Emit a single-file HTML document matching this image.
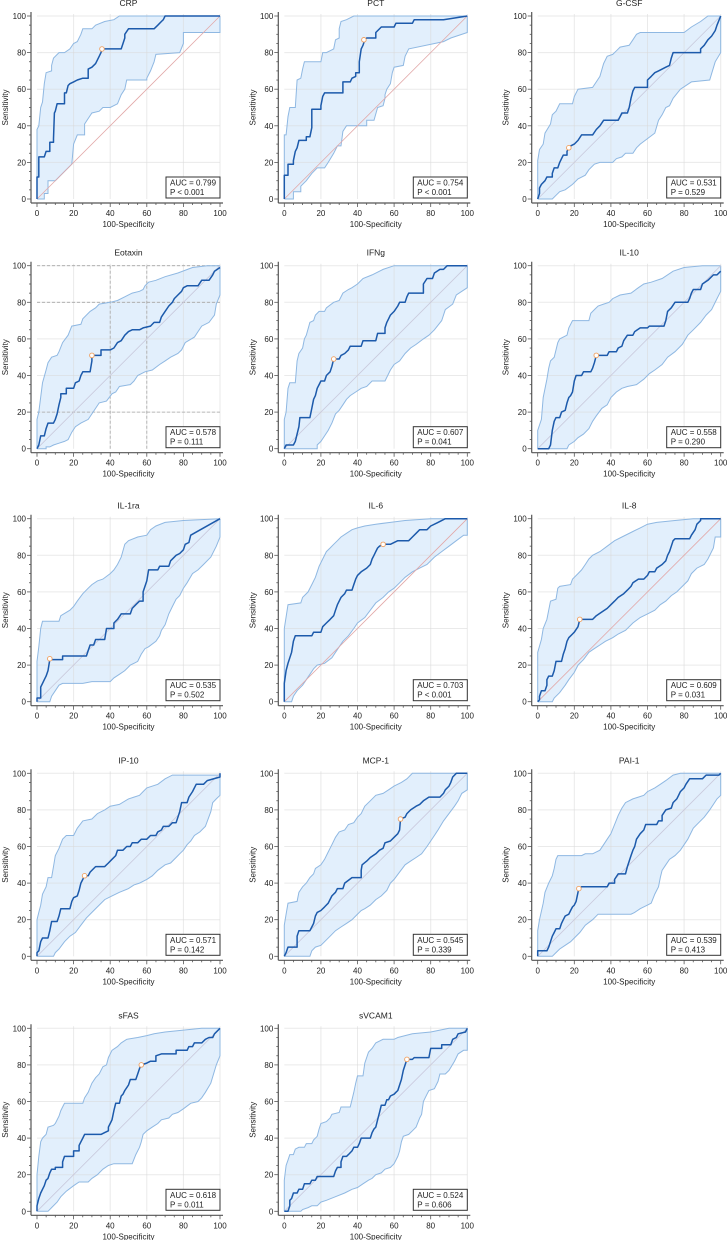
<!DOCTYPE html>
<html><head><meta charset="utf-8"><style>
html,body{margin:0;padding:0;background:#fff;}
svg{display:block;font-family:"Liberation Sans",sans-serif;}
</style></head><body>
<svg id="chart" width="728" height="1240" viewBox="0 0 728 1240" xmlns="http://www.w3.org/2000/svg"></svg>
<script>
// ---- data ----
const panelNames = ["CRP","PCT","G-CSF","Eotaxin","IFNg","IL-10","IL-1ra","IL-6","IL-8","IP-10","MCP-1","PAI-1","sFAS","sVCAM1"];
const aucValues = ["0.799","0.754","0.531","0.578","0.607","0.558","0.535","0.703","0.609","0.571","0.545","0.539","0.618","0.524"];
const pValues = ["P < 0.001","P < 0.001","P = 0.529","P = 0.111","P = 0.041","P = 0.290","P = 0.502","P < 0.001","P = 0.031","P = 0.142","P = 0.339","P = 0.413","P = 0.011","P = 0.606"];
const cutoffs = [[35.5,82],[43.5,87],[17,28],[30,51],[27,49],[32,51],[7,23.5],[54,86],[23,45],[26,44],[63.5,75],[22.5,37],[57,80],[67,83]];
const tickValues = [0,20,40,60,80,100];
const rocMain = [
[[0,0],[0,12],[1,12],[1,23],[4,23],[5,26],[7,26],[7,31],[9,31],[9,33],[9.5,47],[10,48],[11,52],[15,52],[15,58],[16,58],[17,62],[18,63],[20,64],[22,65],[25,66],[28,66],[28,71],[30,72],[32,74],[33,76],[34,78],[35,80],[35.5,82],[46,82],[47,85],[48,88],[48,90],[50,93],[64,93],[66,95],[68,97],[69,98],[70,100],[100,100]],
[[0,0],[0,13],[2,13],[2,19],[5,19],[5,21],[6,26],[7,28],[8,32],[12,32],[12,34],[14,34],[15,39],[15,49],[20,49],[20,51],[21,56],[22,58],[32,58],[32,64],[36,64],[37,66],[39,67],[39,69],[41,69],[41,75],[42,82],[43,84],[44,87],[45,88],[50,88],[50,91],[53,94],[60,94],[61,96],[70,96],[71,98],[87,98],[100,100]],
[[0,0],[1,3],[1,6],[2,8],[4,10],[5,12],[8,12],[8,14],[9,17],[11,17],[12,20],[13,22],[14,24],[16,24],[16,26],[17,28],[18,29],[20,30],[22,32],[24,35],[30,35],[32,38],[34,40],[36,43],[44,43],[45,45],[46,47],[49,47],[50,50],[51,55],[52,59],[53,61],[60,61],[60,65],[62,67],[64,69],[66,70],[70,72],[72,73],[73,77],[74,80],[89,80],[89,82],[91,84],[93,87],[95,89],[97,92],[98,95],[100,100]],
[[0,0],[1,2],[2,7],[4,7],[5,11],[6,14],[9,14],[10,16],[11,19],[12,24],[13,28],[13,30],[16,30],[16,33],[20,33],[21,36],[23,37],[24,40],[25,42],[29,42],[30,48],[30,51],[35,51],[35,54],[40,54],[42,55],[44,58],[46,59],[48,62],[50,64],[52,65],[56,65],[58,66],[62,67],[64,69],[67,69],[68,72],[70,75],[72,78],[74,80],[75,82],[77,84],[79,86],[80,88],[82,89],[88,89],[90,92],[94,92],[96,95],[97,97],[100,99]],
[[0,0],[1,2],[5,2],[6,4],[7,8],[8,12],[8.5,17],[14,17],[15,22],[16,27],[17,29],[18,33],[19,35],[20,37],[22,37],[23,40],[25,42],[26,45],[27,49],[30,49],[31,51],[33,52],[35,54],[36,56],[42,56],[43,59],[50,59],[51,63],[55,63],[55,66],[56,69],[57,71],[58,73],[60,75],[62,78],[63,80],[66,80],[67,83],[68,85],[76,85],[76,90],[78,93],[81,93],[82,96],[85,98],[87,98],[89,100],[100,100]],
[[0,0],[6,0],[7,2],[8,10],[9,15],[10,17],[12,17],[13,20],[15,21],[16,25],[17,28],[18,29],[19,31],[20,37],[21,40],[24,40],[25,42],[29,42],[30,44],[31,47],[32,51],[38,51],[39,53],[43,53],[44,55],[46,56],[47,59],[49,62],[52,62],[53,64],[56,66],[60,66],[61,67],[69,67],[70,70],[71,75],[73,77],[75,80],[82,80],[83,82],[84,85],[85,87],[89,87],[90,90],[93,92],[96,95],[98,95],[100,97]],
[[0,0],[0,2],[2,2],[2,8],[3,10],[4,12],[5,14],[6,17],[6.5,20],[7,23],[14,23],[14,25],[27,25],[28,28],[29,31],[31,31],[32,34],[37,34],[38,40],[42,40],[42,43],[44,45],[46,48],[51,48],[52,51],[54,53],[56,55],[58,55],[58,60],[60,66],[61,72],[66,72],[67,74],[72,74],[73,77],[76,80],[78,81],[80,83],[81,86],[83,87],[84,91],[100,100]],
[[0,0],[0,10],[1,17],[2,21],[3,24],[4,27],[5,33],[6,36],[15,36],[16,38],[20,38],[21,41],[23,43],[25,45],[27,47],[28,50],[29,53],[31,57],[33,59],[34,61],[37,61],[38,64],[39,67],[40,69],[42,71],[45,73],[47,75],[48,78],[49,80],[50,82],[51,84],[52,85],[54,86],[58,86],[62,88],[68,88],[70,90],[72,92],[74,94],[78,94],[80,96],[84,98],[88,100],[100,100]],
[[0,0],[1,1],[1,3],[2,6],[4,6],[5,9],[5,12],[6,14],[8,14],[9,17],[10,22],[13,22],[14,26],[15,29],[16,33],[17,35],[19,37],[20,38],[22,41],[23,45],[30,45],[32,47],[35,49],[38,51],[40,53],[42,55],[44,57],[47,59],[49,61],[51,63],[52,65],[55,67],[58,67],[60,69],[61,71],[64,71],[65,73],[68,75],[70,77],[71,80],[72,82],[73,85],[74,88],[75,89],[83,89],[84,91],[86,94],[87,97],[89,99],[89,100],[100,100]],
[[0,0],[0,2],[1,3],[2,8],[3,10],[6,10],[7,14],[8,19],[11,19],[12,22],[13,26],[18,26],[19,30],[20,32],[22,33],[23,36],[24,40],[25,42],[26,44],[28,44],[29,46],[31,48],[32,49],[37,49],[39,51],[41,53],[43,55],[44,58],[47,58],[49,60],[51,60],[52,62],[55,62],[57,64],[60,64],[62,66],[65,66],[66,68],[68,69],[69,71],[72,71],[74,73],[76,73],[77,76],[78,79],[79,84],[82,84],[83,87],[85,90],[87,94],[91,94],[93,96],[100,98],[100,100]],
[[0,0],[1,2],[2,5],[7,5],[7,11],[8,14],[14,14],[15,16],[16,18],[17,22],[18,24],[20,25],[22,27],[24,29],[26,33],[28,35],[29,37],[32,37],[33,40],[37,43],[42,43],[42,47],[42.5,50],[45,52],[47,54],[50,56],[52,58],[54,59],[55,62],[58,63],[60,65],[62,67],[63,69],[63.5,75],[66,76],[67,78],[69,80],[72,82],[74,83],[76,85],[79,87],[85,87],[87,89],[88,91],[90,93],[91,95],[92,98],[94,100],[100,100]],
[[0,0],[0,3],[5,3],[6,5],[7,8],[8,11],[9,13],[10,15],[12,15],[13,18],[14,20],[15,22],[17,23],[18,25],[19,27],[20,28],[21,30],[22,35],[22.5,37],[24,38],[38,38],[39,40],[42,40],[42,42],[44,45],[48,45],[49,49],[50,52],[51,55],[52,58],[53,60],[54,64],[56,67],[58,69],[59,72],[65,72],[66,74],[68,74],[68,77],[70,80],[73,81],[74,84],[76,86],[77,88],[78,90],[80,92],[81,94],[83,97],[90,97],[92,99],[99,99],[100,100]],
[[0,0],[0,3],[1,7],[2,10],[3,12],[4,14],[5,17],[6,18],[7,21],[8,23],[10,23],[10,24],[14,24],[14,27],[15,30],[20,30],[20,33],[23,33],[23,36],[24,38],[25,40],[26,42],[35,42],[37,43],[39,44],[39,46],[40,48],[41,50],[42,55],[43,59],[45,59],[46,63],[47,64],[48,66],[50,69],[51,72],[54,72],[55,75],[56,78],[57,80],[60,81],[62,82],[65,82],[65,85],[68,86],[76,86],[76,88],[82,88],[83,90],[85,90],[86,92],[90,92],[92,94],[94,95],[96,95],[97,97],[100,100]],
[[0,0],[2,0],[3,3],[3,6],[4,7],[5,10],[7,10],[8,12],[10,12],[11,15],[14,15],[15,17],[17,17],[18,19],[27,19],[28,22],[29,24],[31,24],[31,27],[32,30],[34,30],[35,31],[37,33],[38,35],[40,35],[41,37],[42,40],[47,40],[48,43],[49,45],[50,46],[51,50],[52,54],[53,58],[55,58],[56,61],[57,61],[58,63],[60,64],[61,65],[62,66],[63,69],[64,72],[65,77],[66,80],[67,83],[70,83],[71,84],[79,84],[80,89],[86,89],[86,91],[91,91],[92,94],[94,95],[95,97],[99,98],[100,100]]
];
const rocUpper = [
[[0,0],[0,38],[1,40],[2,50],[3,53],[4,63],[5,69],[8,70],[8,73],[9,77],[12,80],[15,80],[18,82],[20,85],[22,86],[24,90],[25,93],[30,93],[32,95],[37,97],[42,98],[45,100],[100,100]],
[[0,0],[0,35],[1,35],[2,45],[3,50],[6,50],[7,65],[9,66],[10,71],[11,75],[20,75],[21,80],[23,80],[27,82],[28,87],[30,88],[30,93],[31,97],[34,98],[38,100],[100,100]],
[[0,0],[0,21],[1,27],[3,30],[4,36],[7,41],[8,46],[10,48],[12,52],[19,52],[20,56],[22,60],[30,61],[32,64],[34,67],[36,74],[38,78],[41,79],[43,81],[45,83],[50,84],[52,87],[54,90],[56,91],[80,91],[84,94],[89,97],[93,100],[100,100]],
[[0,0],[0,16],[1,20],[3,36],[5,43],[6,47],[8,50],[11,51],[12,53],[14,58],[17,62],[19,67],[24,68],[25,71],[29,75],[32,77],[34,79],[40,80],[44,81],[48,83],[52,85],[56,86],[58,87],[59,89],[61,91],[65,92],[70,94],[77,96],[85,99],[93,100],[100,100]],
[[0,0],[0,16],[1,20],[2,33],[3,36],[6,36],[7,48],[8,52],[10,55],[11,60],[12,62],[14,69],[16,70],[17,73],[19,75],[22,75],[23,77],[27,80],[30,81],[32,85],[35,87],[37,88],[40,90],[43,93],[48,95],[54,98],[60,100],[100,100]],
[[0,0],[0,10],[2,16],[3,28],[5,38],[6,44],[7,48],[9,50],[11,58],[12,60],[16,62],[17,66],[19,70],[28,70],[29,74],[31,76],[33,78],[36,79],[39,80],[41,82],[45,84],[51,85],[55,88],[58,90],[62,91],[68,93],[74,97],[80,99],[90,100],[100,100]],
[[0,0],[0,22],[1,30],[2,40],[3,44],[12,44],[13,47],[18,50],[20,52],[22,55],[25,59],[28,62],[30,64],[33,66],[36,67],[40,70],[42,72],[44,75],[46,79],[48,86],[50,88],[55,90],[60,91],[62,94],[65,96],[70,98],[80,99],[100,100]],
[[0,0],[0,40],[2,53],[9,54],[10,57],[13,60],[15,64],[17,68],[19,74],[21,78],[23,82],[25,84],[27,86],[29,88],[31,90],[34,92],[37,94],[40,95],[44,96],[50,97],[58,98],[66,99],[80,100],[100,100]],
[[0,0],[0,27],[2,34],[3,40],[5,45],[6,50],[7,55],[10,56],[11,62],[12,63],[18,64],[19,67],[22,70],[24,72],[26,75],[28,78],[30,80],[34,82],[38,85],[42,88],[46,90],[52,93],[56,95],[60,97],[65,98],[75,99],[85,100],[100,100]],
[[0,0],[0,20],[1,24],[2,28],[3,34],[5,38],[6,43],[8,43],[9,49],[10,55],[12,59],[14,64],[16,66],[20,66],[22,70],[25,74],[30,75],[33,78],[37,80],[40,82],[45,83],[50,86],[53,87],[56,88],[58,90],[60,92],[66,94],[70,97],[74,99],[100,99],[100,100]],
[[0,0],[0,17],[1,23],[2,29],[7,30],[8,35],[10,38],[12,40],[14,43],[16,45],[17,48],[20,50],[22,53],[24,57],[26,61],[28,65],[30,68],[33,69],[35,72],[38,73],[40,76],[42,78],[44,82],[47,85],[50,88],[54,89],[57,91],[60,93],[64,95],[67,97],[70,100],[100,100]],
[[0,0],[0,14],[1,20],[3,29],[4,35],[6,40],[8,44],[9,48],[10,53],[11,55],[24,55],[26,56],[30,56],[34,58],[36,61],[38,64],[40,67],[42,72],[44,77],[46,81],[48,84],[52,86],[55,87],[58,88],[60,90],[64,92],[67,94],[70,96],[74,99],[78,100],[100,100]],
[[0,0],[0,20],[1,30],[2,38],[3,40],[5,42],[6,46],[9,47],[10,48],[12,52],[13,55],[14,57],[15,59],[25,59],[26,62],[28,65],[30,70],[32,73],[34,75],[35,77],[36,79],[38,80],[39,84],[41,88],[44,90],[46,92],[49,94],[55,95],[60,96],[64,97],[70,98],[80,99],[90,100],[100,100]],
[[0,0],[0,17],[1,25],[2,28],[3,31],[5,31],[6,34],[8,35],[11,35],[12,37],[15,37],[16,39],[18,41],[19,45],[20,48],[23,49],[25,51],[26,53],[30,54],[31,57],[36,57],[37,61],[38,65],[39,70],[40,74],[43,74],[44,81],[46,87],[48,89],[50,92],[54,94],[60,94],[62,95],[70,97],[80,98],[85,99],[90,100],[100,100]]
];
const rocLower = [
[[0,0],[4,0],[4,3],[6,3],[6,10],[10,10],[12,12],[14,14],[17,17],[19,19],[20,30],[22,35],[26,35],[26,41],[28,44],[30,47],[34,48],[36,50],[40,50],[44,52],[46,57],[48,60],[49,65],[60,65],[60,66],[62,70],[64,75],[65,79],[78,80],[80,85],[80,91],[100,91],[100,100]],
[[0,0],[5,0],[5,4],[9,4],[9,7],[12,10],[15,14],[18,17],[22,17],[24,20],[27,25],[29,29],[31,29],[32,37],[34,40],[45,40],[45,43],[49,43],[51,50],[54,51],[55,55],[55,57],[56,60],[58,63],[59,69],[60,72],[65,73],[66,78],[68,82],[87,86],[91,88],[100,91],[100,100]],
[[0,0],[8,0],[10,2],[12,4],[15,5],[19,8],[22,11],[26,13],[28,16],[31,19],[34,20],[41,20],[43,22],[46,23],[48,25],[52,25],[54,28],[56,30],[60,33],[64,36],[66,43],[68,46],[70,50],[72,51],[74,55],[78,60],[84,64],[94,65],[97,75],[100,80],[100,100]],
[[0,0],[5,0],[5,1],[7,1],[9,2],[12,3],[15,4],[17,5],[19,9],[21,12],[24,14],[28,16],[30,19],[34,25],[38,26],[41,30],[43,31],[45,34],[51,35],[53,37],[55,40],[59,42],[63,43],[67,46],[70,48],[73,50],[77,52],[79,54],[81,58],[86,61],[88,64],[90,67],[94,69],[97,73],[98,79],[100,84],[100,100]],
[[0,0],[18,0],[18,2],[20,4],[22,7],[24,10],[26,14],[28,19],[30,21],[32,24],[34,27],[36,29],[39,31],[42,33],[45,34],[48,37],[55,37],[58,43],[60,46],[63,48],[66,52],[69,55],[72,57],[76,60],[79,62],[82,65],[86,70],[88,76],[92,79],[94,84],[100,88],[100,100]],
[[0,0],[16,0],[17,2],[20,4],[22,6],[25,8],[28,11],[30,15],[32,18],[35,22],[38,24],[40,28],[43,31],[46,33],[49,34],[54,35],[58,38],[61,41],[64,43],[68,46],[71,50],[75,53],[79,57],[82,62],[85,65],[89,69],[92,73],[95,76],[98,82],[100,86],[100,100]],
[[0,0],[7,0],[8,3],[10,6],[12,9],[14,10],[25,10],[30,11],[40,11],[42,13],[45,15],[48,17],[51,20],[53,21],[55,22],[57,26],[59,29],[61,30],[65,33],[67,36],[68,39],[70,42],[72,48],[74,52],[76,56],[78,58],[80,62],[82,65],[85,70],[88,72],[91,75],[95,79],[98,85],[100,90],[100,100]],
[[0,0],[4,0],[5,3],[7,6],[10,9],[12,12],[14,15],[16,18],[18,20],[22,21],[26,24],[28,27],[30,30],[32,33],[35,36],[38,40],[40,43],[44,46],[47,50],[50,54],[54,57],[57,60],[60,62],[63,65],[66,68],[70,71],[74,73],[78,75],[82,79],[86,82],[90,85],[94,88],[98,91],[100,91],[100,100]],
[[0,0],[8,0],[9,2],[12,5],[15,9],[17,12],[20,16],[22,20],[25,23],[28,27],[31,29],[34,31],[37,33],[41,35],[44,37],[48,39],[52,43],[56,46],[60,48],[64,50],[67,53],[70,55],[73,58],[76,60],[79,63],[82,66],[84,70],[87,73],[91,75],[93,78],[96,84],[97,90],[100,90],[100,100]],
[[0,0],[9,0],[10,2],[12,4],[15,8],[18,11],[21,13],[24,17],[27,21],[30,24],[33,27],[37,31],[41,33],[45,35],[50,37],[53,39],[56,40],[60,42],[63,44],[66,47],[70,50],[73,51],[76,54],[78,56],[80,58],[82,61],[84,63],[86,66],[89,68],[92,71],[95,79],[96,84],[98,86],[100,88],[100,100]],
[[0,0],[14,0],[15,3],[17,5],[20,6],[22,8],[25,11],[28,14],[31,16],[34,18],[37,20],[39,22],[42,25],[44,26],[47,28],[50,31],[53,33],[56,36],[58,40],[60,42],[63,46],[66,50],[69,52],[72,54],[75,56],[78,60],[80,63],[82,66],[84,69],[87,74],[90,78],[93,82],[95,85],[97,89],[100,91],[100,100]],
[[0,0],[8,0],[10,2],[12,4],[15,6],[18,8],[20,10],[23,13],[26,17],[30,20],[33,23],[51,23],[53,24],[56,26],[60,28],[62,29],[64,34],[66,38],[67,43],[68,47],[70,50],[72,53],[75,55],[78,58],[80,61],[82,64],[85,70],[88,73],[91,76],[94,80],[96,83],[98,86],[100,88],[100,100]],
[[0,0],[6,0],[8,2],[11,5],[13,8],[16,11],[20,14],[23,16],[28,16],[30,18],[33,20],[36,23],[39,25],[42,26],[52,26],[54,31],[56,35],[57,38],[58,42],[60,44],[63,46],[66,48],[68,50],[72,51],[74,53],[77,54],[80,56],[84,59],[88,60],[90,62],[92,65],[95,70],[98,80],[100,85],[100,100]],
[[0,0],[9,0],[10,1],[13,2],[15,3],[18,3],[20,5],[23,6],[28,8],[33,10],[37,12],[40,13],[43,15],[46,17],[48,18],[50,20],[53,21],[55,23],[58,24],[60,26],[62,30],[63,33],[64,38],[65,41],[68,42],[70,44],[72,46],[74,51],[75,53],[76,60],[77,62],[78,64],[79,66],[82,67],[84,71],[85,75],[88,75],[90,77],[93,82],[95,86],[98,88],[100,88],[100,100]]
];
// ---- layout ----
const colX0 = [37, 284.3, 537.7];
const rowY100 = [16, 265.7, 518.7, 773.3, 1028.3];
const PW = 183, PH = 183;
const redDiag = [0,1,7,8];
const NS = "http://www.w3.org/2000/svg";
const svg = document.getElementById('chart');
function mk(tag, attrs, parent){ const e=document.createElementNS(NS,tag); for(const k in attrs) e.setAttribute(k,attrs[k]); parent.appendChild(e); return e; }

panelNames.forEach((name, i) => {
  const x0 = colX0[i%3], y100 = rowY100[Math.floor(i/3)], y0 = y100+PH;
  const sx = v => x0 + v/100*PW;
  const sy = v => y0 - v/100*PH;
  const g = mk('g', {}, svg);
  
  
  const up = rocUpper[i], lo = rocLower[i];
  let d = 'M' + up.map(p => sx(p[0]).toFixed(1)+','+sy(p[1]).toFixed(1)).join('L');
  d += 'L' + lo.slice().reverse().map(p => sx(p[0]).toFixed(1)+','+sy(p[1]).toFixed(1)).join('L') + 'Z';
  const band = mk('path', {d:d, fill:'#e2effc', stroke:'none'}, g);
  
  
  const grid = mk('g', {stroke:'#d8d8d8','stroke-width':'1','stroke-opacity':'0.55'}, g);
  
  
  tickValues.forEach(t => {
    if (t===0) return;
    mk('line', {x1:sx(t),x2:sx(t),y1:y0,y2:y100-2}, grid);
    mk('line', {x1:x0,x2:x0+PW,y1:sy(t),y2:sy(t)}, grid);
  });
  if (name === 'Eotaxin') {
    const dg = mk('g', {stroke:'#a8a8a8','stroke-width':'0.8','stroke-dasharray':'3,2'}, g);
    
    
    [40,60].forEach(t => mk('line', {x1:sx(t),x2:sx(t),y1:y0,y2:y100}, dg));
    [20,80,100].forEach(t => mk('line', {x1:x0,x2:x0+PW,y1:sy(t),y2:sy(t)}, dg));
  }
  [up, lo].forEach((arr, k) => {
    const l = mk('polyline', {points: arr.map(p => sx(p[0]).toFixed(1)+','+sy(p[1]).toFixed(1)).join(' '), fill:'none', stroke:'#8fb8e2','stroke-width':'1'}, g);
    
    
  });
  const diag = mk('line', {x1:sx(0),y1:sy(0),x2:sx(100),y2:sy(100), stroke: redDiag.includes(i) ? '#e2a8a8' : '#c9c9dc', 'stroke-width':'0.8'}, g);
  
  
  const roc = mk('polyline', {points: rocMain[i].map(p => sx(p[0]).toFixed(1)+','+sy(p[1]).toFixed(1)).join(' '), fill:'none', stroke:'#1c5aab','stroke-width':'1.5','stroke-linejoin':'round'}, g);
  
  
  const c = cutoffs[i];
  const cp = mk('circle', {cx:sx(c[0]), cy:sy(c[1]), r:'2.3', fill:'#fff', stroke:'#f0a060','stroke-width':'0.9'}, g);
  
  
  const ax = mk('g', {stroke:'#555','stroke-width':'1.2',fill:'none'}, g);
  
  
  const axL = x0-6, axB = y0+4;
  mk('line', {x1:axL,x2:axL,y1:y100-4,y2:axB}, ax);
  mk('line', {x1:axL,x2:x0+PW+3,y1:axB,y2:axB}, ax);
  for (let v=0; v<=100; v+=5) {
    const len = v%20===0 ? 4 : 2;
    mk('line', {x1:axL-len,x2:axL,y1:sy(v),y2:sy(v),'stroke-width':'0.8'}, ax);
    mk('line', {x1:sx(v),x2:sx(v),y1:axB,y2:axB+len,'stroke-width':'0.8'}, ax);
  }
  const tl = mk('g', {'font-size':'8', fill:'#222'}, g);
  
  
  tickValues.forEach(t => {
    mk('text', {x:axL-5, y:sy(t)+3, 'text-anchor':'end'}, tl).textContent = t;
    mk('text', {x:sx(t), y:axB+13, 'text-anchor':'middle'}, tl).textContent = t;
  });
  const tt = mk('text', {x:x0+PW/2, y:y100-10, 'text-anchor':'middle','font-size':'8.5', fill:'#222'}, g);
  tt.textContent = name;
  
  
  const xt = mk('text', {x:x0+PW/2, y:axB+24, 'text-anchor':'middle','font-size':'8', fill:'#222'}, g);
  xt.textContent = '100-Specificity';
  
  
  const yt = mk('text', {x:0, y:0, 'text-anchor':'middle','font-size':'8', fill:'#222', transform:'translate('+(x0-29)+','+(y100+PH/2)+') rotate(-90)'}, g);
  yt.textContent = 'Sensitivity';
  
  
  const bx = mk('g', {}, g);
  
  
  mk('rect', {x:x0+PW-54, y:y0-22, width:54, height:21, fill:'#fff', stroke:'#333','stroke-width':'1'}, bx);
  mk('text', {x:x0+PW-50, y:y0-13.5, 'font-size':'8', fill:'#222'}, bx).textContent = 'AUC = ' + aucValues[i];
  mk('text', {x:x0+PW-50, y:y0-4, 'font-size':'8', fill:'#222'}, bx).textContent = pValues[i];
});
</script>
</body></html>
